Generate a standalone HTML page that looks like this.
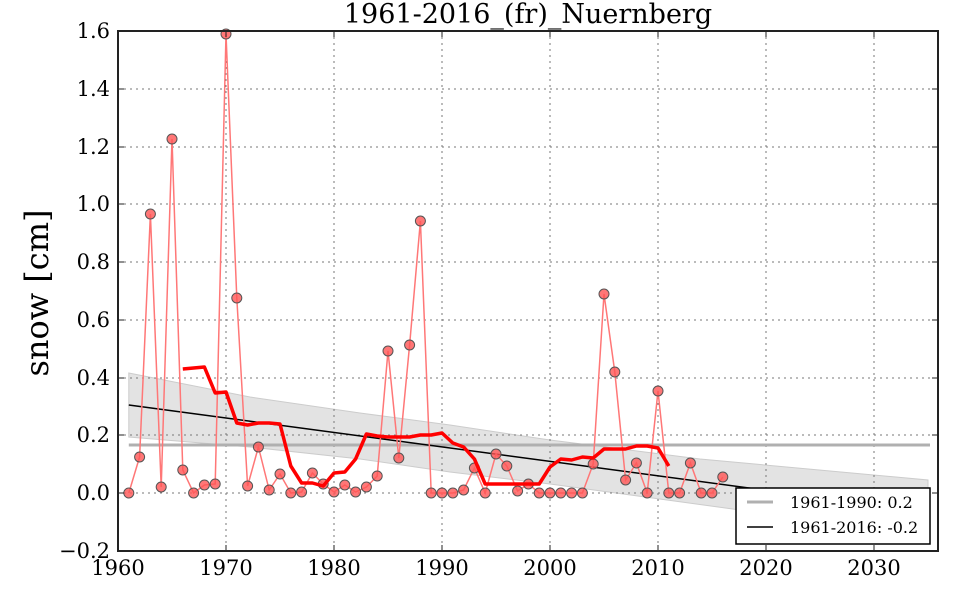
<!DOCTYPE html>
<html><head><meta charset="utf-8"><style>html,body{margin:0;padding:0;background:#fff}</style></head>
<body>
<svg width="960" height="600" xmlns="http://www.w3.org/2000/svg" font-family="'DejaVu Serif','Liberation Serif',serif">
<rect width="960" height="600" fill="#fff"/>
<polygon points="128.8,373 250,397 360,413 450,425 550,440 700,459 928,480 928,538 740,510 550,484 450,472 360,459 250,447 128.8,437" fill="#d9d9d9" fill-opacity="0.75" stroke="#cccccc" stroke-width="1"/>
<g stroke="#777" stroke-width="1" stroke-dasharray="2,4">
<line x1="226" y1="31" x2="226" y2="551"/><line x1="334" y1="31" x2="334" y2="551"/><line x1="442" y1="31" x2="442" y2="551"/><line x1="550" y1="31" x2="550" y2="551"/><line x1="658" y1="31" x2="658" y2="551"/><line x1="766" y1="31" x2="766" y2="551"/><line x1="874" y1="31" x2="874" y2="551"/>
<line x1="118" y1="89" x2="938" y2="89"/><line x1="118" y1="147" x2="938" y2="147"/><line x1="118" y1="204" x2="938" y2="204"/><line x1="118" y1="262" x2="938" y2="262"/><line x1="118" y1="320" x2="938" y2="320"/><line x1="118" y1="378" x2="938" y2="378"/><line x1="118" y1="435" x2="938" y2="435"/><line x1="118" y1="493" x2="938" y2="493"/>
</g>
<line x1="128.8" y1="445" x2="930" y2="445" stroke="#b0b0b0" stroke-width="3"/>
<line x1="128.8" y1="405" x2="928" y2="512" stroke="#000" stroke-width="1.5"/>
<polyline fill="none" stroke="#f77" stroke-width="1.5" points="128.8,493 139.6,457 150.4,214 161.2,487 172,139 182.8,470 193.6,493 204.4,485 215.2,484 226,34 236.8,298 247.6,486 258.4,447 269.2,490 280,474 290.8,493 301.6,492 312.4,473 323.2,484 334,492 344.8,485 355.6,492 366.4,487 377.2,476 388,351 398.8,458 409.6,345 420.4,221 431.2,493 442,493 452.8,493 463.6,490 474.4,468 485.2,493 496,454 506.8,466 517.6,491 528.4,484 539.2,493 550,493 560.8,493 571.6,493 582.4,493 593.2,464 604,294 614.8,372 625.6,480 636.4,463 647.2,493 658,391 668.8,493 679.6,493 690.4,463 701.2,493 712,493 722.8,477"/>
<g fill="#f55" fill-opacity="0.8" stroke="#555" stroke-width="1">
<circle cx="128.8" cy="493" r="5"/><circle cx="139.6" cy="457" r="5"/><circle cx="150.4" cy="214" r="5"/><circle cx="161.2" cy="487" r="5"/><circle cx="172" cy="139" r="5"/><circle cx="182.8" cy="470" r="5"/><circle cx="193.6" cy="493" r="5"/><circle cx="204.4" cy="485" r="5"/><circle cx="215.2" cy="484" r="5"/><circle cx="226" cy="34" r="5"/><circle cx="236.8" cy="298" r="5"/><circle cx="247.6" cy="486" r="5"/><circle cx="258.4" cy="447" r="5"/><circle cx="269.2" cy="490" r="5"/><circle cx="280" cy="474" r="5"/><circle cx="290.8" cy="493" r="5"/><circle cx="301.6" cy="492" r="5"/><circle cx="312.4" cy="473" r="5"/><circle cx="323.2" cy="484" r="5"/><circle cx="334" cy="492" r="5"/><circle cx="344.8" cy="485" r="5"/><circle cx="355.6" cy="492" r="5"/><circle cx="366.4" cy="487" r="5"/><circle cx="377.2" cy="476" r="5"/><circle cx="388" cy="351" r="5"/><circle cx="398.8" cy="458" r="5"/><circle cx="409.6" cy="345" r="5"/><circle cx="420.4" cy="221" r="5"/><circle cx="431.2" cy="493" r="5"/><circle cx="442" cy="493" r="5"/><circle cx="452.8" cy="493" r="5"/><circle cx="463.6" cy="490" r="5"/><circle cx="474.4" cy="468" r="5"/><circle cx="485.2" cy="493" r="5"/><circle cx="496" cy="454" r="5"/><circle cx="506.8" cy="466" r="5"/><circle cx="517.6" cy="491" r="5"/><circle cx="528.4" cy="484" r="5"/><circle cx="539.2" cy="493" r="5"/><circle cx="550" cy="493" r="5"/><circle cx="560.8" cy="493" r="5"/><circle cx="571.6" cy="493" r="5"/><circle cx="582.4" cy="493" r="5"/><circle cx="593.2" cy="464" r="5"/><circle cx="604" cy="294" r="5"/><circle cx="614.8" cy="372" r="5"/><circle cx="625.6" cy="480" r="5"/><circle cx="636.4" cy="463" r="5"/><circle cx="647.2" cy="493" r="5"/><circle cx="658" cy="391" r="5"/><circle cx="668.8" cy="493" r="5"/><circle cx="679.6" cy="493" r="5"/><circle cx="690.4" cy="463" r="5"/><circle cx="701.2" cy="493" r="5"/><circle cx="712" cy="493" r="5"/><circle cx="722.8" cy="477" r="5"/>
</g>
<polyline fill="none" stroke="#f00" stroke-width="3.5" stroke-linejoin="round" points="182.8,369 193.6,368 204.4,367 215.2,393 226,392 236.8,423 247.6,425 258.4,423 269.2,423 280,424 290.8,466 301.6,483 312.4,483 323.2,486 334,473 344.8,472 355.6,459 366.4,434 377.2,436 388,437 398.8,437 409.6,437 420.4,435 431.2,435 442,433 452.8,443 463.6,447 474.4,459 485.2,484 496,484 506.8,484 517.6,484 528.4,484 539.2,484 550,467 560.8,459 571.6,460 582.4,457 593.2,458 604,449 614.8,449 625.6,449 636.4,446 647.2,446 658,448 668.8,466"/>
<rect x="118" y="31" width="820" height="520" fill="none" stroke="#222" stroke-width="2"/>
<g stroke="#222" stroke-width="1">
<line x1="226" y1="551" x2="226" y2="545"/><line x1="334" y1="551" x2="334" y2="545"/><line x1="442" y1="551" x2="442" y2="545"/><line x1="550" y1="551" x2="550" y2="545"/><line x1="658" y1="551" x2="658" y2="545"/><line x1="766" y1="551" x2="766" y2="545"/><line x1="874" y1="551" x2="874" y2="545"/>
<line x1="226" y1="31" x2="226" y2="37"/><line x1="334" y1="31" x2="334" y2="37"/><line x1="442" y1="31" x2="442" y2="37"/><line x1="550" y1="31" x2="550" y2="37"/><line x1="658" y1="31" x2="658" y2="37"/><line x1="766" y1="31" x2="766" y2="37"/><line x1="874" y1="31" x2="874" y2="37"/>
<line x1="118" y1="89" x2="124" y2="89"/><line x1="118" y1="147" x2="124" y2="147"/><line x1="118" y1="204" x2="124" y2="204"/><line x1="118" y1="262" x2="124" y2="262"/><line x1="118" y1="320" x2="124" y2="320"/><line x1="118" y1="378" x2="124" y2="378"/><line x1="118" y1="435" x2="124" y2="435"/><line x1="118" y1="493" x2="124" y2="493"/>
<line x1="938" y1="89" x2="932" y2="89"/><line x1="938" y1="147" x2="932" y2="147"/><line x1="938" y1="204" x2="932" y2="204"/><line x1="938" y1="262" x2="932" y2="262"/><line x1="938" y1="320" x2="932" y2="320"/><line x1="938" y1="378" x2="932" y2="378"/><line x1="938" y1="435" x2="932" y2="435"/><line x1="938" y1="493" x2="932" y2="493"/>
</g>
<g font-size="21" fill="#000" text-anchor="end">
<text x="110" y="38">1.6</text><text x="110" y="96">1.4</text><text x="110" y="154">1.2</text><text x="110" y="211">1.0</text><text x="110" y="269">0.8</text><text x="110" y="327">0.6</text><text x="110" y="385">0.4</text><text x="110" y="442">0.2</text><text x="110" y="500">0.0</text><text x="110" y="558">−0.2</text>
</g>
<g font-size="21" fill="#000" text-anchor="middle">
<text x="118" y="575">1960</text><text x="226" y="575">1970</text><text x="334" y="575">1980</text><text x="442" y="575">1990</text><text x="550" y="575">2000</text><text x="658" y="575">2010</text><text x="766" y="575">2020</text><text x="874" y="575">2030</text>
</g>
<text x="528" y="23" font-size="27" text-anchor="middle">1961-2016_(fr)_Nuernberg</text>
<text transform="translate(48,293) rotate(-90)" font-size="32" text-anchor="middle">snow [cm]</text>
<rect x="736" y="488" width="194" height="56" fill="#fff" stroke="#000" stroke-width="1.5"/>
<line x1="747" y1="502" x2="773" y2="502" stroke="#b0b0b0" stroke-width="3"/>
<line x1="747" y1="527" x2="773" y2="527" stroke="#000" stroke-width="1.5"/>
<text x="790" y="508" font-size="16">1961-1990: 0.2</text>
<text x="790" y="533" font-size="16">1961-2016: -0.2</text>
</svg>
</body></html>
